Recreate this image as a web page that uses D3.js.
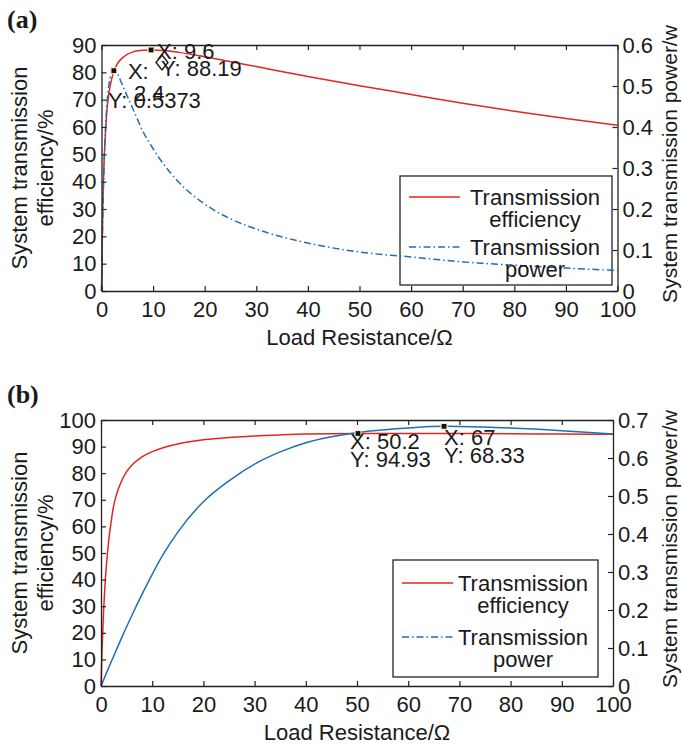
<!DOCTYPE html>
<html>
<head>
<meta charset="utf-8">
<script src="https://d3js.org/d3.v7.min.js"></script>
<style>
  body { margin: 0; background: #fff; }
  svg text { font-family: 'Liberation Sans', Arial, sans-serif; fill: #1a1a1a; }
</style>
</head>
<body>
<div id="widget"></div>
<script>
// shared x axis (load resistance, ohm)
const loadTicks = [0, 10, 20, 30, 40, 50, 60, 70, 80, 90, 100];

// panel (a): efficiency in %, power in W
const loadA = [0, 0.25, 0.5, 0.75, 1, 1.5, 2, 2.4, 3, 4, 5, 6, 7, 8, 9.6, 12, 15, 20, 25, 30, 40, 50, 60, 70, 80, 90, 100];
const effA = [0, 31, 47, 57, 65, 73, 77.8, 80.3, 82.9, 85.2, 86.6, 87.4, 87.9, 88.1, 88.19, 88.0, 87.3, 85.7, 83.9, 82.1, 78.5, 75.1, 71.9, 68.7, 65.8, 63.1, 60.6];
const powA = [0, 0.184, 0.307, 0.39, 0.446, 0.509, 0.533, 0.5373, 0.531, 0.504, 0.475, 0.447, 0.418, 0.39, 0.355, 0.31, 0.265, 0.212, 0.176, 0.151, 0.117, 0.095, 0.083, 0.071, 0.063, 0.056, 0.05];
const effTicksA = [0, 10, 20, 30, 40, 50, 60, 70, 80, 90];
const powTicksA = [0, 0.1, 0.2, 0.3, 0.4, 0.5, 0.6];

// panel (b)
const loadB = [0, 0.25, 0.5, 0.75, 1, 1.5, 2, 2.4, 3, 4, 5, 6, 8, 10, 12, 15, 20, 25, 30, 35, 40, 50.2, 60, 67, 70, 80, 90, 100];
const effB = [0, 16, 28, 37, 44, 54.5, 62, 67, 71.8, 77, 80.6, 83, 86.1, 88.1, 89.5, 91, 92.6, 93.4, 94.0, 94.4, 94.7, 94.93, 94.95, 94.9, 94.9, 94.8, 94.7, 94.6];
const powB = [0, 0.008, 0.016, 0.024, 0.032, 0.048, 0.064, 0.076, 0.095, 0.126, 0.156, 0.185, 0.241, 0.294, 0.343, 0.405, 0.485, 0.54, 0.584, 0.616, 0.64, 0.667, 0.679, 0.6833, 0.683, 0.679, 0.672, 0.663];
const effTicksB = [0, 10, 20, 30, 40, 50, 60, 70, 80, 90, 100];
const powTicksB = [0, 0.1, 0.2, 0.3, 0.4, 0.5, 0.6, 0.7];

// data tips: [x, y, which axis]
const tipsA = [[2.4, 0.5373, 'pow'], [9.6, 88.19, 'eff']];
const tipsB = [[50.2, 94.93, 'eff'], [67, 0.6833, 'pow']];

const legendNames = [['Transmission', 'efficiency'], ['Transmission', 'power']];

const RED = '#e3261f';
const BLUE = '#1f6fb5';
const FS = 22;

const svg = d3.select('#widget').append('svg')
  .attr('width', 682).attr('height', 745)
  .style('background', '#fff');

function styleAxis(sel) {
  sel.attr('font-size', FS).attr('font-family', null);
  sel.select('.domain').attr('stroke', '#222').attr('stroke-width', 1.3);
  sel.selectAll('.tick line').attr('stroke', '#222').attr('stroke-width', 1.2);
  sel.selectAll('.tick text').attr('fill', '#1a1a1a');
}

function drawPanel(p) {
  const x = d3.scaleLinear().domain([0, 100]).range([p.left, p.right]);
  const yL = d3.scaleLinear().domain([0, p.effMax]).range([p.bottom, p.top]);
  const yR = d3.scaleLinear().domain([0, p.powMax]).range([p.bottom, p.top]);
  const g = svg.append('g');

  // legend box first, the curves run across it in the original
  const lg = p.legend;
  g.append('rect').attr('x', lg.x).attr('y', lg.y).attr('width', lg.w).attr('height', lg.h)
    .attr('fill', 'none').attr('stroke', '#222').attr('stroke-width', 1.3);

  // curves
  const effLine = d3.line().x((d, i) => x(p.load[i])).y((d) => yL(d)).curve(d3.curveMonotoneX);
  const powLine = d3.line().x((d, i) => x(p.load[i])).y((d) => yR(d)).curve(d3.curveMonotoneX);

  g.append('path').datum(p.eff)
    .attr('d', effLine).attr('fill', 'none')
    .attr('stroke', RED).attr('stroke-width', 1.5);
  g.append('path').datum(p.pow)
    .attr('d', powLine).attr('fill', 'none')
    .attr('stroke', BLUE).attr('stroke-width', 1.5)
    .attr('stroke-dasharray', p.powDash);

  // axes
  g.append('g').attr('transform', `translate(0,${p.bottom})`)
    .call(d3.axisBottom(x).tickValues(loadTicks).tickSizeInner(-5).tickSizeOuter(0).tickPadding(10))
    .call(styleAxis);
  g.append('g').attr('transform', `translate(0,${p.top})`)
    .call(d3.axisTop(x).tickValues(loadTicks).tickSizeInner(-5).tickSizeOuter(0).tickFormat(''))
    .call(styleAxis);
  g.append('g').attr('transform', `translate(${p.left},0)`)
    .call(d3.axisLeft(yL).tickValues(p.effTicks).tickSizeInner(-5).tickSizeOuter(0).tickPadding(5))
    .call(styleAxis);
  g.append('g').attr('transform', `translate(${p.right},0)`)
    .call(d3.axisRight(yR).tickValues(p.powTicks).tickSizeInner(-5).tickSizeOuter(0).tickPadding(5)
      .tickFormat((d) => (d === 0 ? '0' : d3.format('.1f')(d))))
    .call(styleAxis);

  // axis titles
  const cy = (p.top + p.bottom) / 2;
  g.append('text').attr('x', (p.left + p.right) / 2).attr('y', p.bottom + 54)
    .attr('text-anchor', 'middle').attr('font-size', FS)
    .text('Load Resistance/Ω');
  g.append('text').attr('transform', `translate(27,${cy}) rotate(-90)`)
    .attr('text-anchor', 'middle').attr('font-size', FS)
    .text('System transmission');
  g.append('text').attr('transform', `translate(53,${cy}) rotate(-90)`)
    .attr('text-anchor', 'middle').attr('font-size', FS)
    .text('efficiency/%');
  g.append('text').attr('transform', `translate(677,${cy - 4}) rotate(-90)`)
    .attr('text-anchor', 'middle').attr('font-size', FS - 1)
    .text('System transmission power/w');

  // panel letter
  g.append('text').attr('x', 7).attr('y', p.top - 17)
    .attr('font-weight', 'bold').attr('font-size', 26)
    .style('font-family', "'Liberation Serif', 'Times New Roman', serif")
    .text(p.letter);

  // legend entries
  legendNames.forEach((names, i) => {
    const ly = lg.y + lg.first + i * lg.step;
    g.append('line')
      .attr('x1', lg.x + 9).attr('x2', lg.x + 60)
      .attr('y1', ly).attr('y2', ly)
      .attr('stroke', i === 0 ? RED : BLUE).attr('stroke-width', 1.5)
      .attr('stroke-dasharray', i === 0 ? null : '7,3,1.5,3');
    names.forEach((t, j) => {
      g.append('text').attr('x', lg.textX).attr('y', ly + 8 + j * 22)
        .attr('text-anchor', 'middle').attr('font-size', FS).text(t);
    });
  });

  // data tips
  p.tips.forEach((t, i) => {
    const px = x(t[0]);
    const py = t[2] === 'eff' ? yL(t[1]) : yR(t[1]);
    g.append('rect').attr('x', px - 3).attr('y', py - 3).attr('width', 6).attr('height', 6)
      .attr('fill', '#111').attr('stroke', '#f3efc4').attr('stroke-width', 1.2);
    p.tipText[i].forEach((s) => {
      g.append('text').attr('x', px + s[1]).attr('y', py + s[2])
        .attr('font-size', FS).text(s[0]);
    });
  });

  return g;
}

const panelA = drawPanel({
  letter: '(a)', left: 101.5, right: 617.5, top: 45, bottom: 291,
  load: loadA, eff: effA, pow: powA, effMax: 90, powMax: 0.6,
  effTicks: effTicksA, powTicks: powTicksA, powDash: '7,3,1.5,3',
  legend: { x: 400, y: 176, w: 212, h: 109, first: 21, step: 50, textX: 535 },
  tips: tipsA,
  tipText: [
    [['X:', 14, 8], ['2.4', 20, 30], ['Y: 0.5373', -6, 37]],
    [['X: 9.6', 6, 9], ['Y: 88.19', 10, 26]]
  ]
});

// small diamond glyph left over under the 9.6 tip in the original
panelA.append('path')
  .attr('d', 'M162,55 L168,62.5 L162,70 L156,62.5 Z')
  .attr('fill', 'none').attr('stroke', '#1a1a1a').attr('stroke-width', 1.4);

drawPanel({
  letter: '(b)', left: 101, right: 613, top: 420, bottom: 686,
  load: loadB, eff: effB, pow: powB, effMax: 100, powMax: 0.7,
  effTicks: effTicksB, powTicks: powTicksB, powDash: null,
  legend: { x: 393, y: 560, w: 205, h: 117, first: 23, step: 54, textX: 523 },
  tips: tipsB,
  tipText: [
    [['X: 50.2', -8, 16], ['Y: 94.93', -8, 34]],
    [['X: 67', 0, 19], ['Y: 68.33', 0, 37]]
  ]
});
</script>
</body>
</html>
